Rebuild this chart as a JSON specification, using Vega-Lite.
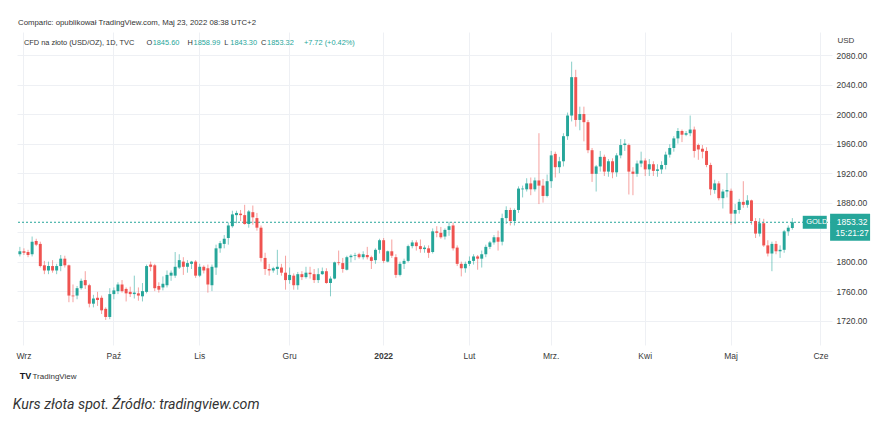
{
  "$schema": "https://vega.github.io/schema/vega-lite/v6.json",
  "width": 815,
  "height": 313,
  "autosize": "none",
  "padding": {"left": 17, "top": 32, "right": 60, "bottom": 88},
  "background": "white",
  "data": {"values": [{}]},
  "title": {"text": "Comparic: opublikował TradingView.com, Maj 23, 2022 08:38 UTC+2", "anchor": "start", "frame": "group", "fontSize": 7.8, "fontWeight": "normal", "color": "#333333", "font": "Liberation Sans", "offset": 5, "dx": 1},
  "config": {"view": {"stroke": null}, "font": "Liberation Sans"},
  "datasets": {
    "candles": [
      {"d":"2021-08-31","o":1810,"h":1820,"l":1807,"c":1814},
      {"d":"2021-09-01","o":1814,"h":1818,"l":1809,"c":1812},
      {"d":"2021-09-02","o":1813,"h":1816,"l":1806,"c":1809},
      {"d":"2021-09-03","o":1810,"h":1834,"l":1807,"c":1827},
      {"d":"2021-09-06","o":1828,"h":1831,"l":1821,"c":1823},
      {"d":"2021-09-07","o":1824,"h":1827,"l":1792,"c":1794},
      {"d":"2021-09-08","o":1795,"h":1801,"l":1783,"c":1788},
      {"d":"2021-09-09","o":1788,"h":1800,"l":1783,"c":1794},
      {"d":"2021-09-10","o":1794,"h":1802,"l":1785,"c":1788},
      {"d":"2021-09-13","o":1788,"h":1797,"l":1783,"c":1794},
      {"d":"2021-09-14","o":1794,"h":1809,"l":1787,"c":1804},
      {"d":"2021-09-15","o":1804,"h":1808,"l":1792,"c":1795},
      {"d":"2021-09-16","o":1795,"h":1796,"l":1745,"c":1754},
      {"d":"2021-09-17","o":1754,"h":1769,"l":1745,"c":1753},
      {"d":"2021-09-20","o":1754,"h":1767,"l":1749,"c":1764},
      {"d":"2021-09-21","o":1764,"h":1777,"l":1762,"c":1774},
      {"d":"2021-09-22","o":1775,"h":1787,"l":1763,"c":1768},
      {"d":"2021-09-23","o":1768,"h":1770,"l":1738,"c":1743},
      {"d":"2021-09-24","o":1743,"h":1755,"l":1738,"c":1750},
      {"d":"2021-09-27","o":1751,"h":1759,"l":1740,"c":1748},
      {"d":"2021-09-28","o":1751,"h":1754,"l":1729,"c":1734},
      {"d":"2021-09-29","o":1736,"h":1738,"l":1721,"c":1725},
      {"d":"2021-09-30","o":1725,"h":1764,"l":1722,"c":1756},
      {"d":"2021-10-01","o":1756,"h":1765,"l":1749,"c":1761},
      {"d":"2021-10-04","o":1760,"h":1772,"l":1756,"c":1769},
      {"d":"2021-10-05","o":1769,"h":1775,"l":1758,"c":1760},
      {"d":"2021-10-06","o":1763,"h":1765,"l":1746,"c":1757},
      {"d":"2021-10-07","o":1759,"h":1766,"l":1752,"c":1756},
      {"d":"2021-10-08","o":1756,"h":1781,"l":1750,"c":1758},
      {"d":"2021-10-11","o":1757,"h":1765,"l":1747,"c":1754},
      {"d":"2021-10-12","o":1753,"h":1771,"l":1746,"c":1760},
      {"d":"2021-10-13","o":1759,"h":1796,"l":1757,"c":1794},
      {"d":"2021-10-14","o":1796,"h":1800,"l":1787,"c":1793},
      {"d":"2021-10-15","o":1795,"h":1797,"l":1760,"c":1764},
      {"d":"2021-10-18","o":1767,"h":1772,"l":1758,"c":1762},
      {"d":"2021-10-19","o":1765,"h":1780,"l":1761,"c":1770},
      {"d":"2021-10-20","o":1768,"h":1788,"l":1765,"c":1782},
      {"d":"2021-10-21","o":1781,"h":1788,"l":1774,"c":1785},
      {"d":"2021-10-22","o":1781,"h":1813,"l":1778,"c":1793},
      {"d":"2021-10-25","o":1792,"h":1810,"l":1790,"c":1802},
      {"d":"2021-10-26","o":1800,"h":1806,"l":1782,"c":1793},
      {"d":"2021-10-27","o":1793,"h":1802,"l":1785,"c":1798},
      {"d":"2021-10-28","o":1797,"h":1801,"l":1790,"c":1800},
      {"d":"2021-10-29","o":1800,"h":1802,"l":1778,"c":1781},
      {"d":"2021-11-01","o":1781,"h":1797,"l":1779,"c":1793},
      {"d":"2021-11-02","o":1793,"h":1795,"l":1784,"c":1788},
      {"d":"2021-11-03","o":1791,"h":1796,"l":1758,"c":1769},
      {"d":"2021-11-04","o":1768,"h":1796,"l":1760,"c":1793},
      {"d":"2021-11-05","o":1792,"h":1823,"l":1782,"c":1818},
      {"d":"2021-11-08","o":1818,"h":1828,"l":1812,"c":1825},
      {"d":"2021-11-09","o":1824,"h":1836,"l":1818,"c":1831},
      {"d":"2021-11-10","o":1832,"h":1853,"l":1823,"c":1849},
      {"d":"2021-11-11","o":1848,"h":1869,"l":1846,"c":1864},
      {"d":"2021-11-12","o":1863,"h":1869,"l":1852,"c":1866},
      {"d":"2021-11-15","o":1865,"h":1870,"l":1855,"c":1863},
      {"d":"2021-11-16","o":1863,"h":1877,"l":1850,"c":1851},
      {"d":"2021-11-17","o":1851,"h":1870,"l":1846,"c":1868},
      {"d":"2021-11-18","o":1867,"h":1876,"l":1850,"c":1860},
      {"d":"2021-11-19","o":1859,"h":1866,"l":1842,"c":1846},
      {"d":"2021-11-22","o":1846,"h":1849,"l":1800,"c":1805},
      {"d":"2021-11-23","o":1805,"h":1812,"l":1782,"c":1790},
      {"d":"2021-11-24","o":1790,"h":1797,"l":1781,"c":1788},
      {"d":"2021-11-25","o":1788,"h":1793,"l":1785,"c":1791},
      {"d":"2021-11-26","o":1790,"h":1816,"l":1782,"c":1793},
      {"d":"2021-11-29","o":1792,"h":1797,"l":1781,"c":1785},
      {"d":"2021-11-30","o":1785,"h":1808,"l":1762,"c":1775},
      {"d":"2021-12-01","o":1775,"h":1792,"l":1770,"c":1782},
      {"d":"2021-12-02","o":1781,"h":1784,"l":1762,"c":1768},
      {"d":"2021-12-03","o":1768,"h":1786,"l":1762,"c":1783},
      {"d":"2021-12-06","o":1783,"h":1787,"l":1775,"c":1779},
      {"d":"2021-12-07","o":1779,"h":1793,"l":1777,"c":1785},
      {"d":"2021-12-08","o":1785,"h":1793,"l":1777,"c":1783},
      {"d":"2021-12-09","o":1783,"h":1790,"l":1771,"c":1775},
      {"d":"2021-12-10","o":1775,"h":1791,"l":1771,"c":1783},
      {"d":"2021-12-13","o":1783,"h":1792,"l":1782,"c":1787},
      {"d":"2021-12-14","o":1787,"h":1791,"l":1770,"c":1771},
      {"d":"2021-12-15","o":1771,"h":1780,"l":1753,"c":1777},
      {"d":"2021-12-16","o":1777,"h":1800,"l":1776,"c":1799},
      {"d":"2021-12-17","o":1799,"h":1815,"l":1795,"c":1798},
      {"d":"2021-12-20","o":1798,"h":1805,"l":1785,"c":1790},
      {"d":"2021-12-21","o":1789,"h":1808,"l":1788,"c":1806},
      {"d":"2021-12-22","o":1806,"h":1810,"l":1799,"c":1808},
      {"d":"2021-12-23","o":1808,"h":1812,"l":1802,"c":1809},
      {"d":"2021-12-24","o":1810,"h":1812,"l":1804,"c":1806},
      {"d":"2021-12-27","o":1806,"h":1814,"l":1803,"c":1810},
      {"d":"2021-12-28","o":1809,"h":1820,"l":1803,"c":1806},
      {"d":"2021-12-29","o":1806,"h":1808,"l":1790,"c":1801},
      {"d":"2021-12-30","o":1802,"h":1818,"l":1797,"c":1816},
      {"d":"2021-12-31","o":1816,"h":1831,"l":1811,"c":1829},
      {"d":"2022-01-03","o":1829,"h":1832,"l":1798,"c":1801},
      {"d":"2022-01-04","o":1800,"h":1815,"l":1799,"c":1814},
      {"d":"2022-01-05","o":1814,"h":1830,"l":1805,"c":1808},
      {"d":"2022-01-06","o":1806,"h":1810,"l":1778,"c":1782},
      {"d":"2022-01-07","o":1782,"h":1800,"l":1780,"c":1797},
      {"d":"2022-01-10","o":1797,"h":1804,"l":1790,"c":1801},
      {"d":"2022-01-11","o":1801,"h":1823,"l":1799,"c":1821},
      {"d":"2022-01-12","o":1821,"h":1829,"l":1818,"c":1826},
      {"d":"2022-01-13","o":1826,"h":1829,"l":1815,"c":1821},
      {"d":"2022-01-14","o":1821,"h":1830,"l":1812,"c":1817},
      {"d":"2022-01-17","o":1817,"h":1822,"l":1812,"c":1819},
      {"d":"2022-01-18","o":1818,"h":1822,"l":1805,"c":1812},
      {"d":"2022-01-19","o":1813,"h":1845,"l":1811,"c":1841},
      {"d":"2022-01-20","o":1841,"h":1848,"l":1833,"c":1839},
      {"d":"2022-01-21","o":1839,"h":1847,"l":1831,"c":1833},
      {"d":"2022-01-24","o":1834,"h":1845,"l":1830,"c":1843},
      {"d":"2022-01-25","o":1843,"h":1854,"l":1835,"c":1848},
      {"d":"2022-01-26","o":1849,"h":1853,"l":1815,"c":1818},
      {"d":"2022-01-27","o":1819,"h":1822,"l":1794,"c":1797},
      {"d":"2022-01-28","o":1797,"h":1800,"l":1780,"c":1791},
      {"d":"2022-01-31","o":1791,"h":1800,"l":1785,"c":1797},
      {"d":"2022-02-01","o":1797,"h":1807,"l":1794,"c":1801},
      {"d":"2022-02-02","o":1801,"h":1810,"l":1796,"c":1807},
      {"d":"2022-02-03","o":1807,"h":1809,"l":1789,"c":1804},
      {"d":"2022-02-04","o":1804,"h":1815,"l":1792,"c":1810},
      {"d":"2022-02-07","o":1810,"h":1823,"l":1806,"c":1820},
      {"d":"2022-02-08","o":1820,"h":1828,"l":1817,"c":1826},
      {"d":"2022-02-09","o":1826,"h":1836,"l":1823,"c":1833},
      {"d":"2022-02-10","o":1833,"h":1842,"l":1815,"c":1827},
      {"d":"2022-02-11","o":1827,"h":1865,"l":1822,"c":1859},
      {"d":"2022-02-14","o":1859,"h":1875,"l":1851,"c":1870},
      {"d":"2022-02-15","o":1870,"h":1873,"l":1849,"c":1855},
      {"d":"2022-02-16","o":1855,"h":1872,"l":1849,"c":1870},
      {"d":"2022-02-17","o":1870,"h":1902,"l":1866,"c":1899},
      {"d":"2022-02-18","o":1898,"h":1903,"l":1887,"c":1899},
      {"d":"2022-02-21","o":1898,"h":1913,"l":1895,"c":1906},
      {"d":"2022-02-22","o":1906,"h":1914,"l":1890,"c":1898},
      {"d":"2022-02-23","o":1898,"h":1914,"l":1895,"c":1910},
      {"d":"2022-02-24","o":1910,"h":1974,"l":1878,"c":1903},
      {"d":"2022-02-25","o":1903,"h":1912,"l":1880,"c":1889},
      {"d":"2022-02-28","o":1889,"h":1918,"l":1887,"c":1909},
      {"d":"2022-03-01","o":1909,"h":1950,"l":1900,"c":1944},
      {"d":"2022-03-02","o":1946,"h":1949,"l":1914,"c":1928},
      {"d":"2022-03-03","o":1928,"h":1942,"l":1920,"c":1936},
      {"d":"2022-03-04","o":1936,"h":1974,"l":1929,"c":1970},
      {"d":"2022-03-07","o":1970,"h":2002,"l":1965,"c":1998},
      {"d":"2022-03-08","o":1998,"h":2071,"l":1990,"c":2050},
      {"d":"2022-03-09","o":2050,"h":2060,"l":1983,"c":1992},
      {"d":"2022-03-10","o":1992,"h":2010,"l":1978,"c":2000},
      {"d":"2022-03-11","o":2000,"h":2010,"l":1963,"c":1989},
      {"d":"2022-03-14","o":1989,"h":1992,"l":1947,"c":1951},
      {"d":"2022-03-15","o":1951,"h":1954,"l":1908,"c":1919},
      {"d":"2022-03-16","o":1919,"h":1931,"l":1895,"c":1929},
      {"d":"2022-03-17","o":1929,"h":1950,"l":1922,"c":1942},
      {"d":"2022-03-18","o":1942,"h":1945,"l":1916,"c":1922},
      {"d":"2022-03-21","o":1922,"h":1939,"l":1915,"c":1936},
      {"d":"2022-03-22","o":1936,"h":1940,"l":1913,"c":1921},
      {"d":"2022-03-23","o":1921,"h":1947,"l":1915,"c":1944},
      {"d":"2022-03-24","o":1944,"h":1966,"l":1940,"c":1958},
      {"d":"2022-03-25","o":1958,"h":1966,"l":1950,"c":1960},
      {"d":"2022-03-28","o":1958,"h":1960,"l":1891,"c":1922},
      {"d":"2022-03-29","o":1922,"h":1928,"l":1890,"c":1919},
      {"d":"2022-03-30","o":1919,"h":1937,"l":1915,"c":1933},
      {"d":"2022-03-31","o":1933,"h":1949,"l":1928,"c":1937},
      {"d":"2022-04-01","o":1937,"h":1940,"l":1916,"c":1925},
      {"d":"2022-04-04","o":1925,"h":1939,"l":1916,"c":1932},
      {"d":"2022-04-05","o":1932,"h":1936,"l":1916,"c":1923},
      {"d":"2022-04-06","o":1923,"h":1932,"l":1915,"c":1925},
      {"d":"2022-04-07","o":1925,"h":1936,"l":1919,"c":1931},
      {"d":"2022-04-08","o":1931,"h":1949,"l":1925,"c":1945},
      {"d":"2022-04-11","o":1945,"h":1959,"l":1941,"c":1954},
      {"d":"2022-04-12","o":1954,"h":1970,"l":1949,"c":1967},
      {"d":"2022-04-13","o":1967,"h":1981,"l":1960,"c":1977},
      {"d":"2022-04-14","o":1977,"h":1979,"l":1962,"c":1972},
      {"d":"2022-04-15","o":1972,"h":1977,"l":1970,"c":1974},
      {"d":"2022-04-18","o":1974,"h":1998,"l":1970,"c":1979},
      {"d":"2022-04-19","o":1979,"h":1983,"l":1941,"c":1950},
      {"d":"2022-04-20","o":1958,"h":1960,"l":1938,"c":1952},
      {"d":"2022-04-21","o":1953,"h":1958,"l":1940,"c":1949},
      {"d":"2022-04-22","o":1950,"h":1955,"l":1928,"c":1931},
      {"d":"2022-04-25","o":1931,"h":1934,"l":1890,"c":1898},
      {"d":"2022-04-26","o":1897,"h":1911,"l":1892,"c":1906},
      {"d":"2022-04-27","o":1906,"h":1909,"l":1883,"c":1886},
      {"d":"2022-04-28","o":1886,"h":1898,"l":1872,"c":1895},
      {"d":"2022-04-29","o":1895,"h":1920,"l":1887,"c":1897},
      {"d":"2022-05-02","o":1896,"h":1899,"l":1850,"c":1865},
      {"d":"2022-05-03","o":1865,"h":1878,"l":1851,"c":1870},
      {"d":"2022-05-04","o":1870,"h":1885,"l":1865,"c":1881},
      {"d":"2022-05-05","o":1881,"h":1909,"l":1873,"c":1877},
      {"d":"2022-05-06","o":1877,"h":1890,"l":1873,"c":1883},
      {"d":"2022-05-09","o":1883,"h":1884,"l":1850,"c":1855},
      {"d":"2022-05-10","o":1855,"h":1859,"l":1832,"c":1838},
      {"d":"2022-05-11","o":1838,"h":1859,"l":1834,"c":1852},
      {"d":"2022-05-12","o":1852,"h":1858,"l":1820,"c":1822},
      {"d":"2022-05-13","o":1822,"h":1829,"l":1807,"c":1811},
      {"d":"2022-05-16","o":1811,"h":1827,"l":1787,"c":1824},
      {"d":"2022-05-17","o":1824,"h":1828,"l":1810,"c":1814},
      {"d":"2022-05-18","o":1814,"h":1822,"l":1805,"c":1816},
      {"d":"2022-05-19","o":1816,"h":1843,"l":1812,"c":1841},
      {"d":"2022-05-20","o":1841,"h":1849,"l":1835,"c":1846},
      {"d":"2022-05-23","o":1845.60,"h":1858.99,"l":1843.30,"c":1853.32}
    ],
    "header": [
      {"t":"CFD na złoto (USD/OZ), 1D, TVC","d":"2021-09-01","k":"lab"},
      {"t":"O","d":"2021-10-13","k":"lab"},
      {"t":"1845.60","d":"2021-10-14","k":"val"},
      {"t":"H","d":"2021-10-27","k":"lab"},
      {"t":"1858.99","d":"2021-10-28","k":"val"},
      {"t":"L","d":"2021-11-09","k":"lab"},
      {"t":"1843.30","d":"2021-11-10","k":"val"},
      {"t":"C","d":"2021-11-22","k":"lab"},
      {"t":"1853.32","d":"2021-11-23","k":"val"},
      {"t":"+7.72 (+0.42%)","d":"2021-12-06","k":"val"}
    ]
  },
  "layer": [
    {
      "data": {"name": "candles"},
      "mark": {"type": "rule", "strokeWidth": 1, "opacity": 0.55},
      "encoding": {
        "x": {
          "field": "d", "type": "ordinal", "sort": "ascending",
          "scale": {"type": "band", "paddingInner": 0, "paddingOuter": 0.2,
            "domain": {"unionWith": ["2022-05-24","2022-05-25","2022-05-26","2022-05-27","2022-05-30","2022-05-31","2022-06-01","2022-06-02","2022-06-03"]}},
          "axis": {
            "values": ["2021-09-01","2021-10-01","2021-11-01","2021-12-01","2022-01-03","2022-02-01","2022-03-01","2022-04-01","2022-05-02","2022-06-01"],
            "labelExpr": "{'2021-09-01':'Wrz','2021-10-01':'Paź','2021-11-01':'Lis','2021-12-01':'Gru','2022-01-03':'2022','2022-02-01':'Lut','2022-03-01':'Mrz.','2022-04-01':'Kwi','2022-05-02':'Maj','2022-06-01':'Cze'}[datum.value]",
            "labelFontWeight": {"condition": {"test": "datum.value == '2022-01-03'", "value": "bold"}, "value": "normal"},
            "bandPosition": 0.5,
            "ticks": false, "domain": false, "labelPadding": 6, "labelAngle": 0,
            "labelFontSize": 8.5, "labelColor": "#3a3a3a", "labelOverlap": false,
            "grid": true, "gridColor": "#eef0f4",
            "title": "TradingView", "titleX": 15, "titleY": 31, "titleAlign": "left", "titleBaseline": "middle",
            "titleFontSize": 8, "titleFontWeight": "normal", "titleColor": "#333333"
          }
        },
        "y": {
          "field": "l", "type": "quantitative",
          "scale": {"domain": [1687, 2111.2], "nice": false, "zero": false},
          "axis": {
            "orient": "right", "values": [1720,1760,1800,1840,1880,1920,1960,2000,2040,2080], "tickCount": 20, "format": ".2f",
            "ticks": false, "domain": false, "labelPadding": 4, "labelAlign": "left", "labelOverlap": false, "labelBound": false,
            "labelFontSize": 8.5, "labelColor": "#3a3a3a", "grid": true, "gridColor": "#eef0f4",
            "title": "USD", "titleAngle": 0, "titleX": 5, "titleY": 8, "titleAlign": "left", "titleBaseline": "middle",
            "titleFontSize": 8, "titleFontWeight": "normal", "titleColor": "#3a3a3a"
          }
        },
        "y2": {"field": "h"},
        "color": {"condition": {"test": "datum.c >= datum.o", "value": "#26a69a"}, "value": "#ef5350"}
      }
    },
    {
      "mark": {"type": "rule", "strokeDash": [2, 2], "color": "#26a69a", "strokeWidth": 1},
      "encoding": {"y": {"datum": 1853.32, "type": "quantitative"}}
    },
    {
      "data": {"name": "candles"},
      "mark": {"type": "bar", "width": {"band": 0.72}},
      "encoding": {
        "x": {"field": "d", "type": "ordinal"},
        "y": {"field": "o", "type": "quantitative"},
        "y2": {"field": "c"},
        "color": {"condition": {"test": "datum.c >= datum.o", "value": "#26a69a"}, "value": "#ef5350"}
      }
    },
    {
      "data": {"name": "header"},
      "transform": [{"filter": "datum.k == 'lab'"}],
      "mark": {"type": "text", "align": "left", "baseline": "middle", "fontSize": 7.4, "color": "#333333"},
      "encoding": {
        "x": {"field": "d", "type": "ordinal"},
        "y": {"datum": 2096.3, "type": "quantitative"},
        "text": {"field": "t"}
      }
    },
    {
      "data": {"name": "header"},
      "transform": [{"filter": "datum.k == 'val'"}],
      "mark": {"type": "text", "align": "left", "baseline": "middle", "fontSize": 7.4, "color": "#26a69a", "dx": 2},
      "encoding": {
        "x": {"field": "d", "type": "ordinal"},
        "y": {"datum": 2096.3, "type": "quantitative"},
        "text": {"field": "t"}
      }
    },
    {
      "mark": {"type": "point", "shape": "M-1,-0.54H1V0.54H-1Z", "size": 576, "filled": true, "opacity": 1, "color": "#26a69a"},
      "encoding": {
        "x": {"datum": "2022-05-30", "type": "ordinal"},
        "y": {"datum": 1853.32, "type": "quantitative"},
        "xOffset": {"value": 4}
      }
    },
    {
      "mark": {"type": "text", "text": "GOLD", "color": "white", "fontSize": 7.5, "align": "center", "baseline": "middle", "dx": 4},
      "encoding": {
        "x": {"datum": "2022-05-30", "type": "ordinal"},
        "y": {"datum": 1853.32, "type": "quantitative"}
      }
    },
    {
      "mark": {"type": "point", "shape": "M-1,-0.675H1V0.675H-1Z", "size": 1600, "filled": true, "opacity": 1, "color": "#26a69a"},
      "encoding": {
        "x": {"datum": "2022-06-03", "type": "ordinal"},
        "y": {"datum": 1853.32, "type": "quantitative"},
        "xOffset": {"value": 23},
        "yOffset": {"value": 5}
      }
    },
    {
      "mark": {"type": "text", "text": "1853.32", "color": "white", "fontSize": 8.5, "align": "center", "baseline": "middle", "dx": 23, "dy": 0},
      "encoding": {
        "x": {"datum": "2022-06-03", "type": "ordinal"},
        "y": {"datum": 1853.32, "type": "quantitative"}
      }
    },
    {
      "mark": {"type": "text", "text": "15:21:27", "color": "white", "fontSize": 8.5, "align": "center", "baseline": "middle", "dx": 23, "dy": 11},
      "encoding": {
        "x": {"datum": "2022-06-03", "type": "ordinal"},
        "y": {"datum": 1853.32, "type": "quantitative"}
      }
    },
    {
      "mark": {"type": "text", "text": "TV", "color": "#131722", "fontSize": 9, "fontWeight": "bold", "align": "left", "baseline": "middle", "dx": 0},
      "encoding": {
        "x": {"datum": "2021-08-31", "type": "ordinal"},
        "y": {"datum": 1645.1, "type": "quantitative"}
      }
    },
    {
      "mark": {"type": "text", "text": "Kurs złota spot. Źródło: tradingview.com", "color": "#333333", "font": "Roboto", "fontSize": 14.2, "fontStyle": "italic", "align": "left", "baseline": "middle", "dx": -7},
      "encoding": {
        "x": {"datum": "2021-08-31", "type": "ordinal"},
        "y": {"datum": 1605.8, "type": "quantitative"}
      }
    }
  ]
}
